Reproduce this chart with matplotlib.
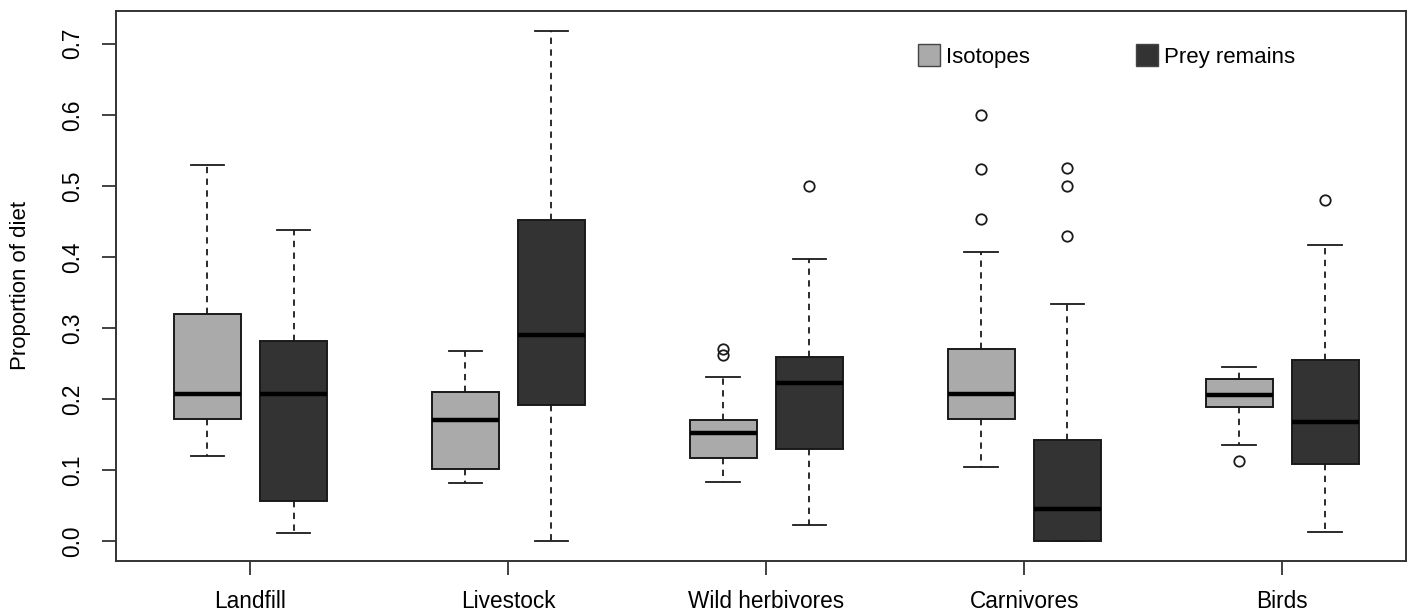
import matplotlib
matplotlib.use("Agg")
import matplotlib.pyplot as plt
from matplotlib.patches import Patch

plt.rcParams['font.family'] = ['Liberation Sans', 'DejaVu Sans']

categories = ["Landfill", "Livestock", "Wild herbivores", "Carnivores", "Birds"]

# Isotopes
iso_med = [0.207, 0.170, 0.152, 0.207, 0.205]
iso_q1 = [0.172, 0.101, 0.117, 0.172, 0.189]
iso_q3 = [0.320, 0.210, 0.170, 0.270, 0.228]
iso_lo = [0.119, 0.082, 0.083, 0.104, 0.135]
iso_hi = [0.529, 0.267, 0.231, 0.407, 0.245]
iso_out = [[], [], [0.262, 0.271], [0.453, 0.523, 0.600], [0.112]]

# Prey remains
prey_med = [0.207, 0.290, 0.223, 0.045, 0.168]
prey_q1 = [0.056, 0.192, 0.130, 0.0, 0.109]
prey_q3 = [0.282, 0.452, 0.259, 0.142, 0.255]
prey_lo = [0.012, 0.0, 0.022, 0.0, 0.013]
prey_hi = [0.438, 0.718, 0.397, 0.334, 0.417]
prey_out = [[], [], [0.500], [0.429, 0.500, 0.525], [0.480]]

yticks = [0.0, 0.1, 0.2, 0.3, 0.4, 0.5, 0.6, 0.7]

iso_col = "#aaaaaa"
prey_col = "#333333"
edge = "#1a1a1a"


def make_stats(med, q1, q3, lo, hi, out):
    st = []
    for i in range(len(med)):
        st.append(dict(med=med[i], q1=q1[i], q3=q3[i], whislo=lo[i],
                       whishi=hi[i], fliers=out[i]))
    return st


fig = plt.figure(figsize=(14.17, 6.14), dpi=100)
ax = fig.add_axes([0.0821, 0.0868, 0.9101, 0.8952])

pos = list(range(1, len(categories) + 1))
off = 0.167
w = 0.26

for stats, shift, col in [(make_stats(iso_med, iso_q1, iso_q3, iso_lo, iso_hi, iso_out), -off, iso_col),
                          (make_stats(prey_med, prey_q1, prey_q3, prey_lo, prey_hi, prey_out), off, prey_col)]:
    ax.bxp(stats, positions=[p + shift for p in pos], widths=w,
           capwidths=w * 0.5, patch_artist=True, manage_ticks=False,
           boxprops=dict(facecolor=col, edgecolor=edge, linewidth=1.4),
           medianprops=dict(color="black", linewidth=3.2, solid_capstyle="butt"),
           whiskerprops=dict(color=edge, linewidth=1.3, linestyle=(0, (3.5, 3))),
           capprops=dict(color=edge, linewidth=1.3),
           flierprops=dict(marker="o", markerfacecolor="none", markeredgecolor=edge,
                           markersize=7.5, markeredgewidth=1.3))

ax.set_xlim(0.48, 5.48)
ax.set_ylim(-0.0277, 0.746)
ax.set_xticks(pos)
ax.set_xticklabels(categories, fontsize=16.3)
ax.set_yticks(yticks)
ax.set_yticklabels(["%.1f" % v for v in yticks], fontsize=16.3, rotation=90, va="center")
ax.tick_params(axis="x", length=10, width=1.3, pad=11, color="#333333")
ax.tick_params(axis="y", length=10, width=1.3, pad=13, color="#333333")
for s in ax.spines.values():
    s.set_linewidth(1.4)
    s.set_color("#333333")
ax.set_ylabel("Proportion of diet", fontsize=16, labelpad=22)

handles = [Patch(facecolor=iso_col, edgecolor="#444444", label="Isotopes"),
           Patch(facecolor=prey_col, edgecolor="#444444", label="Prey remains")]
ax.legend(handles=handles, loc="upper left", bbox_to_anchor=(0.6216, 0.94),
          ncol=2, frameon=False, fontsize=16, handlelength=1.0, handleheight=1.15,
          handletextpad=0.25, columnspacing=4.8, borderpad=0, borderaxespad=0)

fig.savefig("out.png", dpi=100)
